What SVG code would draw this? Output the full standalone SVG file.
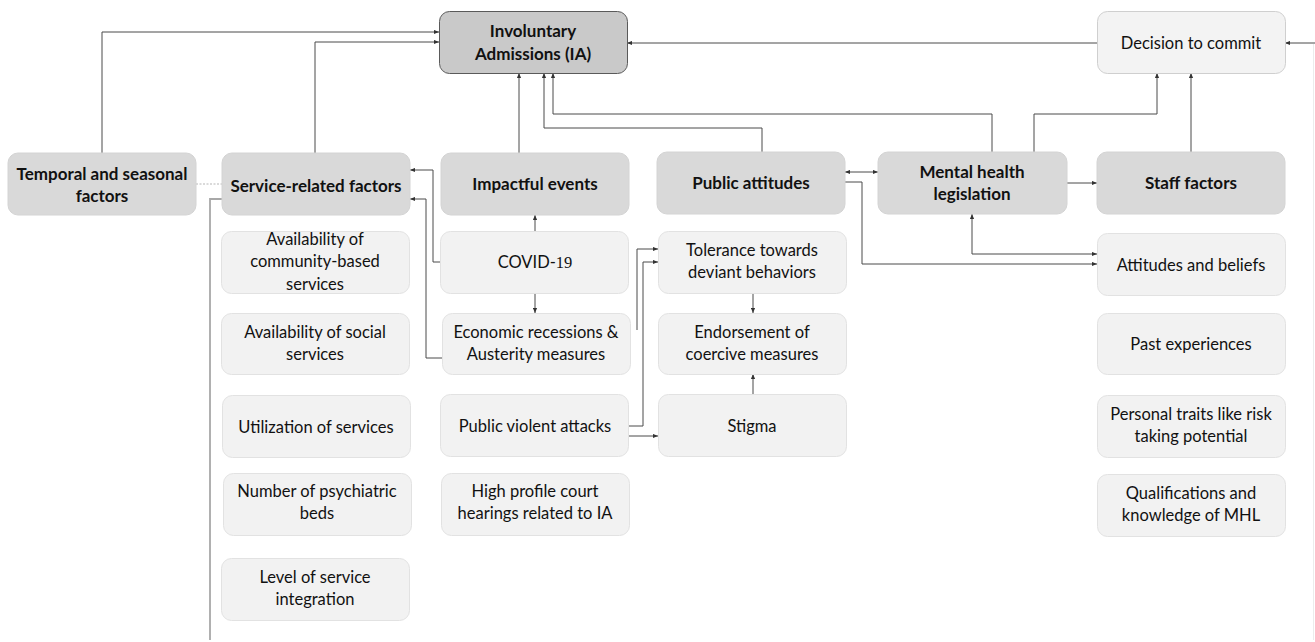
<svg xmlns="http://www.w3.org/2000/svg" width="1315" height="642" viewBox="0 0 1315 642">
<style>
.hd{fill:#d9d9d9;stroke:#d4d4d4;stroke-width:1}
.sub{fill:#f2f2f2;stroke:#e2e2e2;stroke-width:1}
.ia{fill:#c9c9c9;stroke:#5a5a5a;stroke-width:1}
.dc{fill:#f3f3f3;stroke:#cfcfcf;stroke-width:1}
text{font-family:Lato,"Open Sans","Liberation Sans",sans-serif;fill:#111;text-anchor:middle}
.b{font-weight:bold;font-size:17px}
.r{font-size:16.5px}
.c{fill:none;stroke:#4a4a4a;stroke-width:1}
</style>
<defs>
<marker id="ah" viewBox="0 0 6 6" refX="6" refY="3" markerWidth="5" markerHeight="5" markerUnits="userSpaceOnUse" orient="auto-start-reverse"><path d="M0,0.5 L6,3 L0,5.5 Z" fill="#333"/></marker>
</defs>
<g id="connectors">
<path class="c" d="M102,153 V32 H439" marker-end="url(#ah)"/>
<path class="c" d="M315,153 V42 H439" marker-end="url(#ah)"/>
<path d="M196,184 H222" fill="none" stroke="#b5b5b5" stroke-width="1" stroke-dasharray="2,1.5"/>
<path d="M222,199 H210 V640" fill="none" stroke="#a8a8a8" stroke-width="1.8"/>
<path class="c" d="M440,262 H433 V170 H410" marker-end="url(#ah)"/>
<path class="c" d="M442,358 H426 V199 H410" marker-end="url(#ah)"/>
<path class="c" d="M519,153 V73" marker-end="url(#ah)"/>
<path class="c" d="M762,152 V128 H544 V73" marker-end="url(#ah)"/>
<path class="c" d="M992,152 V114 H553 V73" marker-end="url(#ah)"/>
<path class="c" d="M1034,152 V114 H1157 V73" marker-end="url(#ah)"/>
<path class="c" d="M1191,152 V73" marker-end="url(#ah)"/>
<path class="c" d="M1097,43 H627" marker-end="url(#ah)"/>
<path class="c" d="M1315,43 H1285" marker-end="url(#ah)"/>
<path d="M1313.5,44 V640" fill="none" stroke="#ececec" stroke-width="1"/>
<path class="c" d="M845,172 H878" marker-start="url(#ah)" marker-end="url(#ah)"/>
<path class="c" d="M845,182 H862 V264 H1097" marker-end="url(#ah)"/>
<path class="c" d="M972,214 V254 H1097" marker-start="url(#ah)" marker-end="url(#ah)"/>
<path class="c" d="M1067,183 H1097" marker-end="url(#ah)"/>
<path class="c" d="M535,231 V215" marker-end="url(#ah)"/>
<path class="c" d="M535,293 V313" marker-end="url(#ah)"/>
<path class="c" d="M629,426 H643 V262 H658" marker-end="url(#ah)"/>
<path class="c" d="M637,330 V249 H658" marker-end="url(#ah)"/>
<path class="c" d="M629,436 H658" marker-end="url(#ah)"/>
<path class="c" d="M753,293 V313" marker-end="url(#ah)"/>
<path class="c" d="M753,394 V374" marker-end="url(#ah)"/>
</g>
<g id="ia"><rect class="ia" x="439.5" y="11.5" width="188" height="62" rx="10"/><text class="b" x="533" y="37">Involuntary</text><text class="b" x="533" y="60">Admissions (IA)</text></g>
<g id="decision"><rect class="dc" x="1097.5" y="11.5" width="188" height="62" rx="10"/><text class="r" x="1191" y="49">Decision to commit</text></g>
<g id="temporal"><rect class="hd" x="8" y="153" width="188" height="62" rx="10"/><text class="b" x="102" y="180">Temporal and seasonal</text><text class="b" x="102" y="202">factors</text></g>
<g id="service"><rect class="hd" x="222" y="153" width="188" height="62" rx="10"/><text class="b" x="316" y="192">Service-related factors</text></g>
<g id="impactful"><rect class="hd" x="441" y="153" width="188" height="62" rx="10"/><text class="b" x="535" y="190">Impactful events</text></g>
<g id="public"><rect class="hd" x="657" y="152" width="188" height="62" rx="10"/><text class="b" x="751" y="189">Public attitudes</text></g>
<g id="mhl"><rect class="hd" x="878" y="152" width="189" height="62" rx="10"/><text class="b" x="972" y="178">Mental health</text><text class="b" x="972" y="200">legislation</text></g>
<g id="staff"><rect class="hd" x="1097" y="152" width="188" height="62" rx="10"/><text class="b" x="1191" y="189">Staff factors</text></g>
<g id="s1"><rect class="sub" x="221.5" y="231.5" width="188" height="62" rx="10"/><text class="r" x="315" y="245">Availability of</text><text class="r" x="315" y="267">community-based</text><text class="r" x="315" y="290">services</text></g>
<g id="s2"><rect class="sub" x="221.5" y="313.5" width="188" height="61" rx="10"/><text class="r" x="315" y="338">Availability of social</text><text class="r" x="315" y="360">services</text></g>
<g id="s3"><rect class="sub" x="222.5" y="395.5" width="188" height="62" rx="10"/><text class="r" x="316" y="433">Utilization of services</text></g>
<g id="s4"><rect class="sub" x="223.5" y="473.5" width="188" height="62" rx="10"/><text class="r" x="317" y="497">Number of psychiatric</text><text class="r" x="317" y="519">beds</text></g>
<g id="s5"><rect class="sub" x="221.5" y="558.5" width="188" height="62" rx="10"/><text class="r" x="315" y="583">Level of service</text><text class="r" x="315" y="605">integration</text></g>
<g id="i1"><rect class="sub" x="440.5" y="231.5" width="188" height="62" rx="10"/><text class="r" x="535" y="268">COVID-<tspan style="font-family:'Liberation Serif',serif">19</tspan></text></g>
<g id="i2"><rect class="sub" x="442.5" y="313.5" width="188" height="61" rx="10"/><text class="r" x="536" y="338">Economic recessions &amp;</text><text class="r" x="536" y="360">Austerity measures</text></g>
<g id="i3"><rect class="sub" x="440.5" y="394.5" width="188" height="62" rx="10"/><text class="r" x="535" y="432">Public violent attacks</text></g>
<g id="i4"><rect class="sub" x="441.5" y="473.5" width="188" height="62" rx="10"/><text class="r" x="535" y="497">High profile court</text><text class="r" x="535" y="519">hearings related to IA</text></g>
<g id="p1"><rect class="sub" x="658.5" y="231.5" width="188" height="62" rx="10"/><text class="r" x="752" y="256">Tolerance towards</text><text class="r" x="752" y="278">deviant behaviors</text></g>
<g id="p2"><rect class="sub" x="658.5" y="313.5" width="188" height="61" rx="10"/><text class="r" x="752" y="338">Endorsement of</text><text class="r" x="752" y="360">coercive measures</text></g>
<g id="p3"><rect class="sub" x="658.5" y="394.5" width="188" height="62" rx="10"/><text class="r" x="752" y="432">Stigma</text></g>
<g id="f1"><rect class="sub" x="1097.5" y="233.5" width="188" height="62" rx="10"/><text class="r" x="1191" y="271">Attitudes and beliefs</text></g>
<g id="f2"><rect class="sub" x="1097.5" y="313.5" width="188" height="61" rx="10"/><text class="r" x="1191" y="350">Past experiences</text></g>
<g id="f3"><rect class="sub" x="1097.5" y="395.5" width="188" height="62" rx="10"/><text class="r" x="1191" y="420">Personal traits like risk</text><text class="r" x="1191" y="442">taking potential</text></g>
<g id="f4"><rect class="sub" x="1097.5" y="474.5" width="188" height="62" rx="10"/><text class="r" x="1191" y="499">Qualifications and</text><text class="r" x="1191" y="521">knowledge of MHL</text></g>
</svg>
